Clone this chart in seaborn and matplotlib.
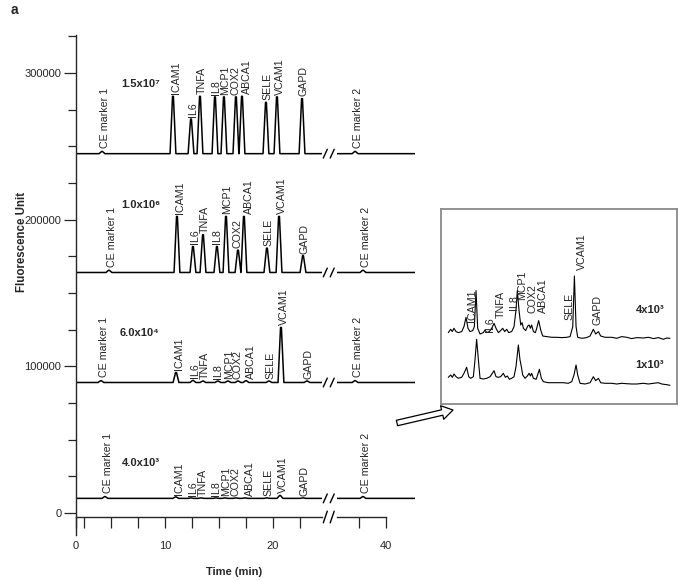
import matplotlib
matplotlib.use("Agg")
import matplotlib.pyplot as plt
import seaborn as sns
import numpy as np
from matplotlib.patches import FancyArrowPatch

# ---------------- data ----------------
genes = ["ICAM1", "IL6", "TNFA", "IL8", "MCP1", "COX2", "ABCA1", "SELE", "VCAM1", "GAPD"]
conc_labels = ["1.5x10\u2077", "1.0x10\u2076", "6.0x10\u2074", "4.0x10\u00b3"]
baselines = [245000, 164000, 89000, 10000]

# peak migration times (min) and heights above baseline (fluorescence units)
trace1_times = [10.74, 12.41, 13.24, 14.63, 15.46, 16.57, 17.13, 19.35, 20.37, 22.69]
trace1_heights = [39100, 23600, 39100, 38700, 38700, 38700, 39100, 35000, 38700, 37500]
trace2_times = [11.11, 12.59, 13.52, 14.81, 15.65, 16.76, 17.31, 19.44, 20.56, 22.78]
trace2_heights = [38200, 17700, 25700, 17700, 38200, 15200, 38200, 16600, 38200, 11400]
trace3_times = [11.02, 12.59, 13.52, 14.90, 15.83, 16.76, 17.50, 19.63, 20.74, 23.15]
trace3_heights = [6800, 1400, 1000, 1000, 1000, 1000, 1200, 1000, 37500, 1000]
trace4_times = [11.00, 12.40, 13.33, 14.72, 15.56, 16.57, 17.40, 19.44, 20.65, 22.78]
trace4_heights = [1000, 300, 300, 300, 300, 300, 300, 300, 2000, 300]

ce1_times = [4.17, 4.81, 4.07, 4.44]
ce2_times = [37.17, 37.90, 37.17, 37.90]
ce_heights = [1500, 1500, 1200, 1200]

# inset electropherograms (min, relative signal)
inset_up_t = [8.41, 8.64, 8.80, 8.96, 9.16, 9.38, 9.71, 9.93, 10.13, 10.32,
              10.52, 10.78, 10.94, 11.10, 11.26, 11.49, 11.81, 11.97, 12.14, 12.39,
              12.62, 12.85, 13.04, 13.27, 13.49, 13.69, 13.88, 14.08, 14.27, 14.56,
              14.79, 14.98, 15.11, 15.27, 15.44, 15.57, 15.70, 15.92, 16.12, 16.25,
              16.38, 16.50, 16.67, 16.86, 16.99, 17.18, 17.38, 17.57, 17.96, 18.45,
              18.93, 19.42, 19.90, 20.23, 20.49, 20.65, 20.81, 20.97, 21.36, 21.84,
              22.17, 22.49, 22.72, 22.98, 23.20, 23.62, 24.27, 24.76, 25.24, 25.73,
              26.21, 26.70, 27.35, 27.83, 28.32, 28.80, 29.29, 29.61, 29.93]
inset_up_s = [4.7, 8, 5.7, 9, 5.7, 4.7, 5.7, 10.7, 20, 9,
              5.7, 6.7, 10.7, 46.7, 9, 3.3, 4.7, 7.3, 4.7, 5.7,
              9, 14, 9, 4.7, 6.7, 9, 5.7, 8, 4.7, 5.7,
              10.7, 27.3, 46.7, 27.3, 12.3, 14.7, 9, 6.7, 11.3, 12.3,
              9, 12.3, 5.7, 4.7, 9, 16.7, 7.3, 1.3, 0.7, 0,
              0, -0.3, 0, 0.7, 10.7, 61.3, 10.7, 0, -1, -0.3,
              1.3, 8, 3.3, 5.7, 1.3, 0, 0, -1, 0.7, 0,
              -1.3, -0.3, -0.7, 0, -1.3, -0.3, -2, -0.7, -1]
inset_lo_t = [8.41, 8.64, 8.80, 8.96, 9.16, 9.38, 9.71, 9.93, 10.19, 10.39,
              10.58, 10.84, 11.00, 11.16, 11.33, 11.49, 11.81, 12.14, 12.46, 12.85,
              13.04, 13.27, 13.49, 13.75, 13.95, 14.14, 14.34, 14.56, 14.79, 14.98,
              15.21, 15.37, 15.50, 15.63, 15.86, 16.08, 16.25, 16.38, 16.50, 16.67,
              16.93, 17.05, 17.25, 17.44, 17.64, 18.12, 18.61, 19.09, 19.58, 20.06,
              20.39, 20.61, 20.81, 20.97, 21.20, 21.68, 22.17, 22.49, 22.72, 22.98,
              23.20, 23.62, 24.27, 24.76, 25.24, 25.73, 26.21, 26.70, 27.35, 27.83,
              28.32, 28.80, 29.13, 29.61, 29.93]
inset_lo_s = [6.7, 9, 6.7, 10, 7.3, 5.7, 6.7, 10.7, 16.7, 7.3,
              5.7, 7.3, 24, 44.7, 24, 5.7, 5, 5.7, 7.3, 13.3,
              7.3, 6.7, 7.3, 10.7, 6.7, 8, 4.7, 5.7, 7.3, 17.3,
              39, 24, 17.3, 9, 5.7, 8, 10.7, 8, 10.7, 5.7,
              4.7, 8, 14.7, 5.7, 2.3, 1.3, 1.3, 1.3, 1.3, 0.7,
              2.3, 9, 19, 9, 0.7, 0, 1.3, 7.3, 3.3, 5.7,
              1.3, 0.7, 0.7, 0, 0.7, 0.3, 0, 0, 0.7, 0,
              0.7, 1.3, 0, -0.7, -1.3]
inset_conc = ["4x10\u00b3", "1x10\u00b3"]
inset_label_t = [10.71, 12.46, 13.53, 14.79, 15.57, 16.63, 17.60, 20.13, 21.39, 22.94]
inset_label_y = [82, 72, 86, 94, 104, 91, 91, 84, 134, 79]

# ---------------- style ----------------
sns.set_style("ticks")
plt.rcParams['font.family'] = ['Liberation Sans', 'DejaVu Sans']
plt.rcParams['axes.linewidth'] = 1.0

W, H = 678, 580
fig = plt.figure(figsize=(W / 100, H / 100), dpi=100)


def fx(px):
    return px / W


def fy(py):
    return 1 - py / H


YLIM = (-2700, 325900)
axL = fig.add_axes([fx(76), fy(517), fx(322) - fx(76), fy(35) - fy(517)])
axR = fig.add_axes([fx(337), fy(517), fx(415) - fx(337), fy(35) - fy(517)])
XL = (1.76, 24.54)
XR = (35.5, 42.7)


def chromatogram(times, heights, base, x0, x1, hw=0.27, top=0.04):
    xs, ys = [x0], [base]
    for t, h in sorted(zip(times, heights)):
        xs += [t - hw, t - top, t + top, t + hw]
        ys += [base, base + h, base + h, base]
    xs.append(x1)
    ys.append(base)
    return xs, ys


traces = [(trace1_times, trace1_heights), (trace2_times, trace2_heights),
          (trace3_times, trace3_heights), (trace4_times, trace4_heights)]
conc_pos = [(7.7, 292500), (7.8, 210000), (7.6, 122700), (7.8, 34100)]
label_dx = [0.3, 0.15, 0.15, 0.05, 0.1, 0.0, 0.45, 0.1, 0.25, 0.15]

lab_fs = 7.7
for i, (tt, hh) in enumerate(traces):
    base = baselines[i]
    xs, ys = chromatogram(tt + [ce1_times[i]], hh + [ce_heights[i]], base, XL[0], XL[1])
    sns.lineplot(x=xs, y=ys, ax=axL, color='black', lw=1.1, estimator=None, sort=False)
    xs2, ys2 = chromatogram([ce2_times[i]], [ce_heights[i]], base, XR[0], XR[1])
    sns.lineplot(x=xs2, y=ys2, ax=axR, color='black', lw=1.1, estimator=None, sort=False)
    for g, t, h, dx in zip(genes, tt, hh, label_dx):
        axL.text(t + dx, base + h + 1500, g, rotation=90, ha='center', va='bottom',
                 fontsize=lab_fs)
    axL.text(ce1_times[i] + 0.25, base + ce_heights[i] + 2500, "CE marker 1", rotation=90,
             ha='center', va='bottom', fontsize=lab_fs)
    axR.text(ce2_times[i] + 0.25, base + ce_heights[i] + 2500, "CE marker 2", rotation=90,
             ha='center', va='bottom', fontsize=lab_fs)
    axL.text(conc_pos[i][0], conc_pos[i][1], conc_labels[i], ha='center', va='center',
             fontsize=8, fontweight='bold')
    # break marks
    for xa, xb in [(24.66, 25.03), (25.3, 25.67)]:
        axL.plot([xa, xb], [base - 3000, base + 3000], color='black', lw=1.0, clip_on=False)

# axis break on x axis
for xa, xb in [(24.66, 25.03), (25.3, 25.67)]:
    axL.plot([xa, xb], [YLIM[0] - 4000, YLIM[0] + 4000], color='black', lw=1.0, clip_on=False)

for ax, xl in [(axL, XL), (axR, XR)]:
    ax.set_xlim(*xl)
    ax.set_ylim(*YLIM)
    ax.set_xlabel("")
    ax.set_ylabel("")
    ax.spines['top'].set_visible(False)
    ax.spines['right'].set_visible(False)
    ax.patch.set_alpha(0)

axL.set_xticks([XL[0], 10, 20])
axL.set_xticklabels(["0", "10", "20"])
axL.set_xticks([2.5, 5, 7.5, 12.5, 15, 17.5, 22.5], minor=True)
axR.set_xticks([40])
axR.set_xticklabels(["40"])
axR.set_xticks([37.5], minor=True)
axR.spines['bottom'].set_bounds(XR[0], 40)
axR.spines['left'].set_visible(False)
axR.tick_params(axis='y', which='both', left=False, labelleft=False)

axL.set_yticks([0, 100000, 200000, 300000])
axL.set_yticklabels(["0", "100000", "200000", "300000"])
axL.set_yticks(np.arange(25000, 326000, 25000), minor=True)
axL.spines['left'].set_bounds(-15000, YLIM[1])

for ax in (axL, axR):
    ax.tick_params(axis='x', which='both', direction='out', length=8, width=0.9,
                   labelsize=8, pad=9)
axL.tick_params(axis='y', which='major', direction='out', length=9, width=0.9,
                labelsize=8, pad=1.5)
axL.tick_params(axis='y', which='minor', direction='out', length=5.5, width=0.9)

fig.text(fx(22), fy(242), "Fluorescence Unit", rotation=90, ha='center', va='center',
         fontsize=8.3, fontweight='bold')
fig.text(fx(234), fy(572), "Time (min)", ha='center', va='center', fontsize=8,
         fontweight='bold')
fig.text(fx(14), fy(10), "a", ha='center', va='center', fontsize=10, fontweight='bold')

# ---------------- inset ----------------
axI = fig.add_axes([fx(441), fy(404), fx(677) - fx(441), fy(209) - fy(404)])
up_off, lo_off = 66.7, 20
sns.lineplot(x=inset_up_t, y=np.array(inset_up_s) + up_off, ax=axI, color='black', lw=0.8,
             estimator=None, sort=False)
sns.lineplot(x=inset_lo_t, y=np.array(inset_lo_s) + lo_off, ax=axI, color='black', lw=0.8,
             estimator=None, sort=False)
axI.set_xlim(7.70, 30.61)
axI.set_ylim(0, 195)
axI.set_xticks([])
axI.set_yticks([])
axI.set_xlabel("")
axI.set_ylabel("")
for s in axI.spines.values():
    s.set_visible(True)
    s.set_color('#8a8a8a')
    s.set_linewidth(1.3)
for g, t, y in zip(genes, inset_label_t, inset_label_y):
    axI.text(t, y, g, rotation=90, ha='center', va='bottom', fontsize=lab_fs)
axI.text(27.99, 94, inset_conc[0], ha='center', va='center', fontsize=8, fontweight='bold')
axI.text(27.99, 39, inset_conc[1], ha='center', va='center', fontsize=8, fontweight='bold')

# arrow
arr = FancyArrowPatch((fx(397), fy(423)), (fx(453), fy(410)), transform=fig.transFigure,
                      arrowstyle='simple,head_length=0.8,head_width=1.0,tail_width=0.4',
                      mutation_scale=10, fc='white', ec='black', lw=0.9,
                      shrinkA=0, shrinkB=0)
fig.patches.append(arr)

fig.savefig("out.png", dpi=100)
